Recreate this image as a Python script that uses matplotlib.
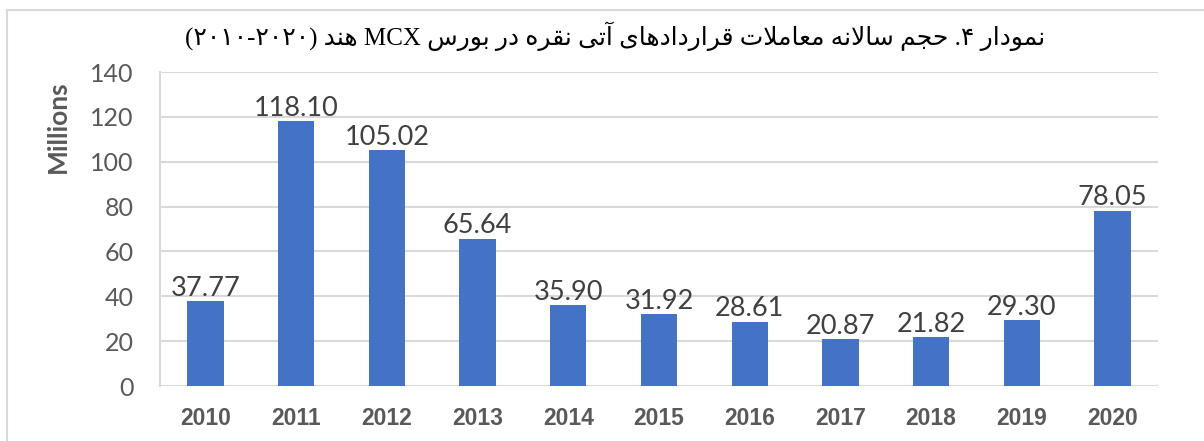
import matplotlib
matplotlib.use('Agg')
from matplotlib import pyplot as plt
from matplotlib.lines import Line2D

years = ['2010', '2011', '2012', '2013', '2014', '2015', '2016', '2017', '2018', '2019', '2020']
volumes = [37.77, 118.10, 105.02, 65.64, 35.90, 31.92, 28.61, 20.87, 21.82, 29.30, 78.05]
y_ticks = [0, 20, 40, 60, 80, 100, 120, 140]

# presentation forms: (isolated, final, initial, medial)
forms = {
    'ا': (0xFE8D, 0xFE8E), 'آ': (0xFE81, 0xFE82),
    'د': (0xFEA9, 0xFEAA), 'ر': (0xFEAD, 0xFEAE), 'و': (0xFEED, 0xFEEE),
    'ب': (0xFE8F, 0xFE90, 0xFE91, 0xFE92), 'ت': (0xFE95, 0xFE96, 0xFE97, 0xFE98),
    'ج': (0xFE9D, 0xFE9E, 0xFE9F, 0xFEA0), 'ح': (0xFEA1, 0xFEA2, 0xFEA3, 0xFEA4),
    'س': (0xFEB1, 0xFEB2, 0xFEB3, 0xFEB4), 'ع': (0xFEC9, 0xFECA, 0xFECB, 0xFECC),
    'ق': (0xFED5, 0xFED6, 0xFED7, 0xFED8), 'ل': (0xFEDD, 0xFEDE, 0xFEDF, 0xFEE0),
    'م': (0xFEE1, 0xFEE2, 0xFEE3, 0xFEE4), 'ن': (0xFEE5, 0xFEE6, 0xFEE7, 0xFEE8),
    'ه': (0xFEE9, 0xFEEA, 0xFEEB, 0xFEEC), 'ی': (0xFBFC, 0xFBFD, 0xFBFE, 0xFBFF),
}


def shape(word):
    # join letters and return them in visual (left to right) order
    out = []
    i = 0
    prev_joins = False
    while i < len(word):
        c = word[i]
        if c == 'ل' and i + 1 < len(word) and word[i + 1] == 'ا':
            out.append(chr(0xFEFC if prev_joins else 0xFEFB))
            prev_joins = False
            i += 2
            continue
        f = forms.get(c)
        if f is None:
            out.append(c)
            prev_joins = False
            i += 1
            continue
        nxt = word[i + 1] if i + 1 < len(word) else None
        next_joins = len(f) == 4 and nxt in forms
        if prev_joins and next_joins:
            g = f[3]
        elif prev_joins:
            g = f[1]
        elif next_joins:
            g = f[2]
        else:
            g = f[0]
        out.append(chr(g))
        prev_joins = len(f) == 4 and next_joins
        i += 1
    return ''.join(out)[::-1]


title_words = ['(۲۰۱۰-۲۰۲۰)', shape('هند'), 'MCX', shape('بورس'), shape('در'), shape('نقره'),
               shape('آتی'), shape('قراردادهای'), shape('معاملات'), shape('سالانه'),
               shape('حجم'), '.۴', shape('نمودار')]
title = ' '.join(title_words)

fig = plt.figure(figsize=(12.04, 4.41), dpi=100)
ax = fig.add_axes([160 / 1204, 1 - 386 / 441, 998 / 1204, 314 / 441])

x = range(len(years))
ax.bar(x, volumes, width=0.4, color='#4472C4', zorder=3)
for i, v in enumerate(volumes):
    ax.text(i, v + 0.2, f'{v:.2f}', ha='center', va='bottom', fontsize=19.5,
            color='#404040', family='Lato', zorder=4)

ax.set_xlim(-0.5, len(years) - 0.5)
ax.set_ylim(0, 140)
ax.set_yticks(y_ticks)
ax.set_yticklabels([str(t) for t in y_ticks], fontsize=18, color='#595959', family='Lato')
ax.set_xticks(list(x))
ax.set_xticklabels(years, fontsize=16.5, fontweight='bold', color='#595959', family='Liberation Sans')
ax.tick_params(axis='both', length=0)
ax.tick_params(axis='y', pad=19)
ax.tick_params(axis='x', pad=15)
ax.grid(axis='y', color='#d9d9d9', linewidth=1.5, zorder=0)
for s in ['top', 'right', 'bottom']:
    ax.spines[s].set_visible(False)
ax.spines['left'].set_color('#d9d9d9')
ax.spines['left'].set_linewidth(1.5)
ax.set_ylabel('Millions', fontsize=19, fontweight='bold', color='#595959', family='Lato')
ax.yaxis.set_label_coords(-0.09, 0.825)

fig.text(615 / 1204, 1 - 36 / 441, title, ha='center', va='center', fontsize=18,
         family=['Liberation Serif', 'DejaVu Sans'], color='black')

# chart frame
fig.add_artist(Line2D([7 / 1204, 1], [1 - 10 / 441, 1 - 10 / 441], color='#d9d9d9', linewidth=1.5))
fig.add_artist(Line2D([7 / 1204, 7 / 1204], [0, 1 - 10 / 441], color='#d9d9d9', linewidth=1.5))

fig.savefig('out.png', dpi=100)
